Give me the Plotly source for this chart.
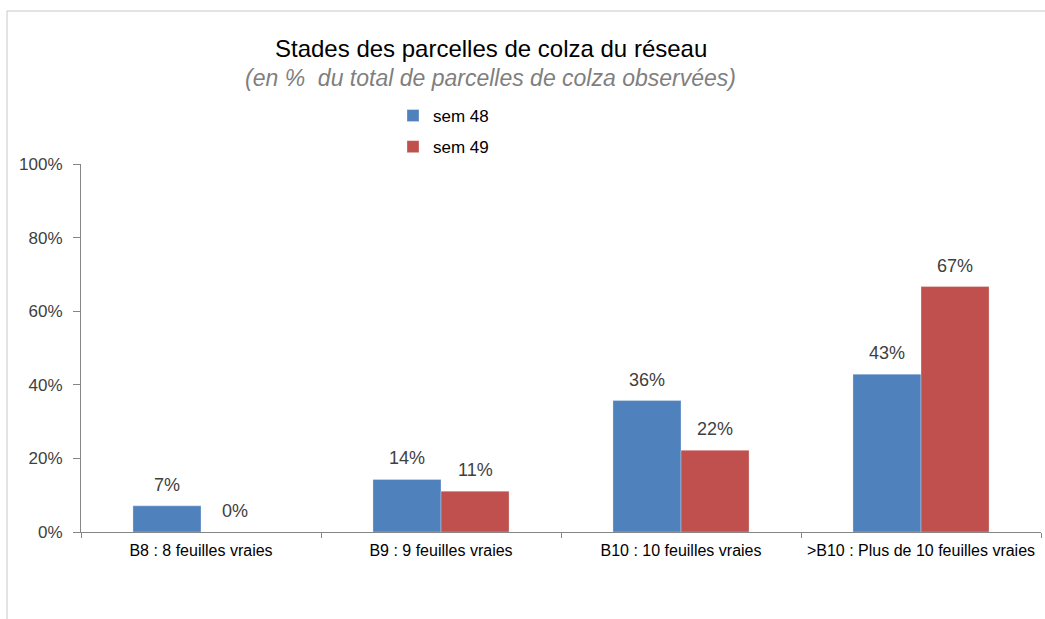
import plotly.graph_objects as go

categories = ["B8 : 8 feuilles vraies", "B9 : 9 feuilles vraies",
              "B10 : 10 feuilles vraies", ">B10 : Plus de 10 feuilles vraies"]
sem48 = [7.1, 14.3, 35.7, 42.9]
sem49 = [0.0, 11.1, 22.2, 66.7]
series_names = ["sem 48", "sem 49"]
colors = ["#4F81BD", "#C0504D"]
yticks = [0, 20, 40, 60, 80, 100]
ytick_labels = ["0%", "20%", "40%", "60%", "80%", "100%"]

W, H = 1045, 619
L, R, T, B = 81, 4, 164, 87
pw, ph = W - L - R, H - T - B

def px(x):
    return (x - L) / pw

def py(y):
    return (H - B - y) / ph

FONT = "Liberation Sans, Arial, sans-serif"

fig = go.Figure()
for i, (name, vals) in enumerate(zip(series_names, [sem48, sem49])):
    fig.add_trace(go.Bar(
        x=categories, y=vals, name=name,
        marker=dict(color=colors[i], line=dict(width=0.6, color="rgba(255,255,255,0.5)")),
        legendgroup=name,
    ))

annotations = []
for i, vals in enumerate([sem48, sem49]):
    shift = -34 if i == 0 else 34
    for c, v in zip(categories, vals):
        annotations.append(dict(
            x=c, y=v, xref="x", yref="y", text=f"{v:.0f}%",
            showarrow=False, xshift=shift, yshift=21, yanchor="middle",
            font=dict(family=FONT, size=18, color="#404040"),
        ))

annotations.append(dict(
    x=px(491), y=py(48.5), xref="paper", yref="paper",
    text="Stades des parcelles de colza du réseau", showarrow=False,
    font=dict(family=FONT, size=24, color="#000000"), yanchor="middle",
))
annotations.append(dict(
    x=px(490), y=py(78), xref="paper", yref="paper",
    text="<i>(en %  du total de parcelles de colza observées)</i>", showarrow=False,
    font=dict(family=FONT, size=23, color="#7f7f7f"), yanchor="middle",
))

shapes = [
    dict(type="line", xref="paper", yref="paper", x0=px(7), x1=px(1045), y0=py(11), y1=py(11),
         line=dict(color="#c8c8c8", width=1)),
    dict(type="line", xref="paper", yref="paper", x0=px(7), x1=px(7), y0=py(11), y1=py(619),
         line=dict(color="#c8c8c8", width=1)),
]

fig.update_layout(
    width=W, height=H,
    margin=dict(l=L, r=R, t=T, b=B, autoexpand=False),
    paper_bgcolor="white", plot_bgcolor="white",
    barmode="group", bargap=0.433, bargroupgap=0,
    font=dict(family=FONT, size=14, color="#404040"),
    showlegend=True,
    legend=dict(x=px(393), y=py(98), xanchor="left", yanchor="top",
                orientation="v", traceorder="grouped", tracegroupgap=6,
                font=dict(family=FONT, size=17, color="#000000"),
                itemwidth=30, bgcolor="rgba(0,0,0,0)"),
    annotations=annotations,
    shapes=shapes,
)
fig.update_xaxes(
    showline=True, linecolor="#868686", linewidth=1,
    ticks="outside", tickson="boundaries", ticklen=5, tickcolor="#868686",
    tickfont=dict(family=FONT, size=16, color="#000000"),
    ticklabelstandoff=4,
    showgrid=False, zeroline=False,
)
fig.update_yaxes(
    range=[0, 100], tickvals=yticks, ticktext=ytick_labels,
    showline=True, linecolor="#868686", linewidth=1,
    ticks="outside", ticklen=7, tickcolor="#868686",
    tickfont=dict(family=FONT, size=17, color="#404040"),
    ticklabelstandoff=7,
    showgrid=False, zeroline=False,
)

fig.write_html("out.html", config={"displayModeBar": False},
               post_script="document.body.style.margin='0';document.body.style.overflow='hidden';")
